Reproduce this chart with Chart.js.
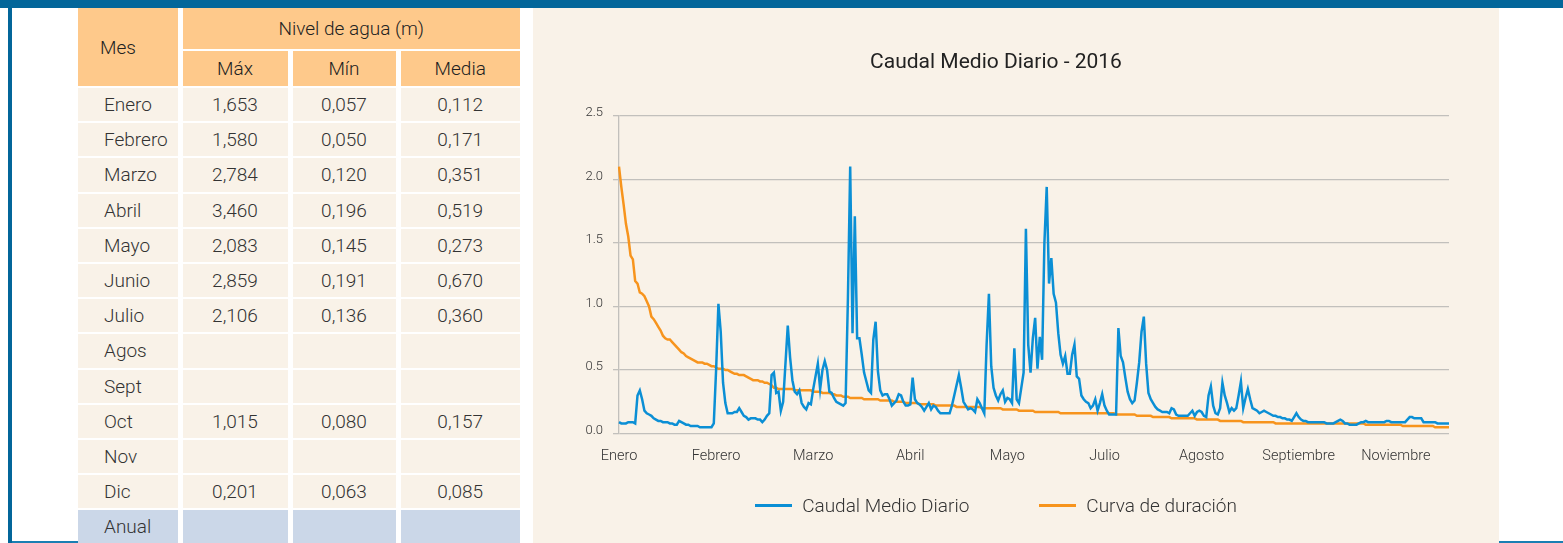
<!DOCTYPE html>
<html lang="es">
<head>
<meta charset="utf-8">
<title>Caudal Medio Diario - 2016</title>
<script src="https://cdn.jsdelivr.net/npm/chart.js@4.4.0/dist/chart.umd.min.js"></script>
<style>
    html, body { margin: 0; padding: 0; }
    body {
        width: 1563px; height: 543px; overflow: hidden; position: relative;
        background: #ffffff; font-family: Roboto, 'Liberation Sans', sans-serif;
    }
    .band { position: absolute; background: #03669a; }
    #topBar { left: 0; top: 0; width: 1563px; height: 8px; }
    #leftBar { left: 8px; top: 0; width: 4px; height: 543px; }
    .baseLine { position: absolute; top: 541px; height: 2px; background: #1a7fb3; }

    #tabla {
        position: absolute; left: 73px; top: 6px;
        border-collapse: separate; border-spacing: 5px 2px;
        table-layout: fixed; font-size: 19px; font-weight: 300; color: #333;
    }
    #tabla td, #tabla th { padding: 0; font-weight: 300; }
    #tabla th { background: #fec98b; color: #222; text-align: center; }
    #tabla th.mes { text-align: left; padding-left: 22px; }
    #tabla tr.top th { height: 41px; }
    #tabla tr.sub th { height: 35px; }
    #tabla td { background: #f9f2e8; height: 33.2px; text-align: center; }
    #tabla td.mes { text-align: left; padding-left: 26px; }
    #tabla tr.anual td { background: #cbd7e8; }

    #panel { position: absolute; left: 533px; top: 8px; width: 966px; height: 535px; background: #f9f2e8; }
    #chartBox { position: absolute; left: 533px; top: 8px; width: 926px; height: 535px; }
    #leyenda {
        position: absolute; left: 533px; top: 494px; width: 926px; height: 22px;
        display: flex; justify-content: center; align-items: center;
        font-size: 19px; font-weight: 300; color: #333;
    }
    .item { display: flex; align-items: center; margin: 0 35px; }
    .muestra { width: 37px; height: 3px; margin-right: 10px; }
</style>
</head>
<body>
<div id="topBar" class="band"></div>
<div id="leftBar" class="band"></div>
<div class="baseLine" style="left:12px; width:66px;"></div>
<div class="baseLine" style="left:1499px; width:64px;"></div>

<table id="tabla">
    <colgroup>
        <col style="width:99.5px"><col style="width:105px"><col style="width:103px"><col style="width:119.5px">
    </colgroup>
    <thead>
        <tr class="top"><th class="mes" rowspan="2">Mes</th><th colspan="3">Nivel de agua (m)</th></tr>
        <tr class="sub"><th>Máx</th><th>Mín</th><th>Media</th></tr>
    </thead>
    <tbody id="filas"></tbody>
</table>

<div id="panel"></div>
<div id="chartBox"><canvas id="chartCaudal"></canvas></div>
<div id="leyenda"></div>

<script>
// Tabla: nivel de agua por mes
const meses = ['Enero', 'Febrero', 'Marzo', 'Abril', 'Mayo', 'Junio', 'Julio', 'Agos', 'Sept', 'Oct', 'Nov', 'Dic', 'Anual'];
const nivelMax = ['1,653', '1,580', '2,784', '3,460', '2,083', '2,859', '2,106', '', '', '1,015', '', '0,201', ''];
const nivelMin = ['0,057', '0,050', '0,120', '0,196', '0,145', '0,191', '0,136', '', '', '0,080', '', '0,063', ''];
const nivelMedia = ['0,112', '0,171', '0,351', '0,519', '0,273', '0,670', '0,360', '', '', '0,157', '', '0,085', ''];

// Grafico: caudal medio diario y curva de duracion
const etiquetasMes = ['Enero', 'Febrero', 'Marzo', 'Abril', 'Mayo', 'Julio', 'Agosto', 'Septiembre', 'Noviembre'];
const pasoEtiqueta = 42;
const ticksY = [0, 0.5, 1.0, 1.5, 2.0, 2.5];

const caudal = [
    0.09, 0.08, 0.08, 0.08, 0.09, 0.09, 0.09, 0.08, 0.30, 0.34, 0.27, 0.18, 0.16, 0.15, 0.14, 0.12, 0.11, 0.10, 0.10, 0.09,
    0.09, 0.09, 0.08, 0.08, 0.07, 0.07, 0.10, 0.09, 0.08, 0.07, 0.07, 0.06, 0.06, 0.06, 0.06, 0.05, 0.05, 0.05, 0.05, 0.05,
    0.05, 0.08, 0.50, 1.02, 0.80, 0.40, 0.24, 0.16, 0.16, 0.16, 0.17, 0.17, 0.20, 0.17, 0.14, 0.13, 0.11, 0.12, 0.12, 0.12,
    0.11, 0.11, 0.09, 0.11, 0.14, 0.16, 0.46, 0.48, 0.32, 0.33, 0.18, 0.25, 0.55, 0.85, 0.60, 0.42, 0.33, 0.31, 0.34, 0.24,
    0.21, 0.19, 0.24, 0.23, 0.35, 0.45, 0.55, 0.35, 0.50, 0.57, 0.50, 0.33, 0.32, 0.28, 0.25, 0.24, 0.23, 0.22, 0.24, 1.05,
    2.10, 0.79, 1.71, 0.75, 0.75, 0.62, 0.48, 0.41, 0.34, 0.32, 0.74, 0.88, 0.49, 0.34, 0.30, 0.31, 0.31, 0.27, 0.22, 0.24,
    0.26, 0.31, 0.30, 0.25, 0.22, 0.22, 0.23, 0.44, 0.27, 0.24, 0.23, 0.21, 0.18, 0.21, 0.24, 0.19, 0.22, 0.21, 0.18, 0.16,
    0.16, 0.16, 0.16, 0.16, 0.22, 0.30, 0.38, 0.46, 0.36, 0.25, 0.22, 0.19, 0.20, 0.19, 0.17, 0.27, 0.24, 0.20, 0.16, 0.70,
    1.10, 0.53, 0.36, 0.30, 0.26, 0.31, 0.34, 0.25, 0.28, 0.27, 0.24, 0.67, 0.27, 0.24, 0.36, 0.48, 1.61, 0.70, 0.48, 0.75,
    0.91, 0.51, 0.76, 0.58, 1.50, 1.94, 1.18, 1.38, 1.10, 1.03, 0.79, 0.62, 0.55, 0.61, 0.47, 0.47, 0.62, 0.70, 0.45, 0.43,
    0.30, 0.27, 0.25, 0.24, 0.20, 0.22, 0.27, 0.18, 0.24, 0.31, 0.22, 0.18, 0.15, 0.15, 0.15, 0.15, 0.83, 0.61, 0.56, 0.44,
    0.33, 0.27, 0.24, 0.26, 0.40, 0.56, 0.80, 0.92, 0.55, 0.32, 0.27, 0.24, 0.21, 0.19, 0.18, 0.17, 0.17, 0.17, 0.16, 0.20,
    0.19, 0.15, 0.14, 0.14, 0.14, 0.14, 0.14, 0.16, 0.18, 0.14, 0.17, 0.18, 0.17, 0.14, 0.13, 0.30, 0.37, 0.22, 0.16, 0.15,
    0.20, 0.40, 0.30, 0.24, 0.17, 0.20, 0.18, 0.20, 0.30, 0.41, 0.20, 0.28, 0.35, 0.27, 0.20, 0.19, 0.18, 0.16, 0.17, 0.18,
    0.17, 0.16, 0.15, 0.14, 0.14, 0.13, 0.13, 0.12, 0.12, 0.11, 0.11, 0.10, 0.13, 0.16, 0.13, 0.11, 0.10, 0.10, 0.09, 0.09,
    0.09, 0.09, 0.09, 0.09, 0.09, 0.09, 0.08, 0.08, 0.08, 0.08, 0.09, 0.10, 0.11, 0.10, 0.08, 0.08, 0.07, 0.07, 0.07, 0.07,
    0.08, 0.09, 0.09, 0.10, 0.09, 0.09, 0.09, 0.09, 0.09, 0.09, 0.09, 0.09, 0.10, 0.10, 0.09, 0.09, 0.09, 0.09, 0.09, 0.09,
    0.09, 0.11, 0.13, 0.13, 0.12, 0.12, 0.12, 0.12, 0.09, 0.09, 0.09, 0.09, 0.09, 0.09, 0.08, 0.08, 0.08, 0.08, 0.08, 0.08
];

const curva = [
    2.10, 1.94, 1.80, 1.65, 1.55, 1.40, 1.37, 1.20, 1.18, 1.11, 1.10, 1.08, 1.04, 1.00, 0.92, 0.90, 0.87, 0.84, 0.81, 0.77,
    0.75, 0.74, 0.74, 0.72, 0.70, 0.68, 0.66, 0.64, 0.63, 0.61, 0.60, 0.59, 0.58, 0.57, 0.56, 0.56, 0.56, 0.55, 0.55, 0.54,
    0.53, 0.53, 0.52, 0.51, 0.51, 0.51, 0.50, 0.50, 0.49, 0.48, 0.47, 0.47, 0.46, 0.46, 0.46, 0.45, 0.44, 0.43, 0.42, 0.42,
    0.42, 0.41, 0.41, 0.40, 0.40, 0.39, 0.38, 0.36, 0.36, 0.35, 0.35, 0.35, 0.35, 0.35, 0.35, 0.35, 0.34, 0.34, 0.34, 0.34,
    0.34, 0.34, 0.34, 0.34, 0.33, 0.33, 0.33, 0.33, 0.32, 0.32, 0.32, 0.32, 0.31, 0.31, 0.30, 0.30, 0.30, 0.29, 0.29, 0.29,
    0.28, 0.28, 0.28, 0.28, 0.28, 0.28, 0.27, 0.27, 0.27, 0.27, 0.27, 0.27, 0.27, 0.26, 0.26, 0.26, 0.26, 0.26, 0.26, 0.25,
    0.25, 0.25, 0.25, 0.25, 0.24, 0.24, 0.24, 0.24, 0.24, 0.24, 0.23, 0.23, 0.23, 0.23, 0.23, 0.23, 0.23, 0.22, 0.22, 0.22,
    0.22, 0.22, 0.22, 0.22, 0.22, 0.22, 0.21, 0.21, 0.21, 0.21, 0.21, 0.21, 0.21, 0.21, 0.21, 0.21, 0.21, 0.20, 0.20, 0.20,
    0.20, 0.20, 0.20, 0.20, 0.20, 0.20, 0.19, 0.19, 0.19, 0.19, 0.19, 0.19, 0.19, 0.18, 0.18, 0.18, 0.18, 0.18, 0.18, 0.18,
    0.17, 0.17, 0.17, 0.17, 0.17, 0.17, 0.17, 0.17, 0.17, 0.17, 0.17, 0.16, 0.16, 0.16, 0.16, 0.16, 0.16, 0.16, 0.16, 0.16,
    0.16, 0.16, 0.16, 0.16, 0.16, 0.16, 0.16, 0.16, 0.16, 0.16, 0.16, 0.16, 0.16, 0.16, 0.16, 0.15, 0.15, 0.15, 0.15, 0.15,
    0.15, 0.15, 0.15, 0.15, 0.14, 0.14, 0.14, 0.14, 0.14, 0.14, 0.14, 0.13, 0.13, 0.13, 0.13, 0.13, 0.13, 0.13, 0.13, 0.12,
    0.12, 0.12, 0.12, 0.12, 0.12, 0.12, 0.12, 0.12, 0.12, 0.12, 0.11, 0.11, 0.11, 0.11, 0.11, 0.11, 0.11, 0.11, 0.11, 0.11,
    0.10, 0.10, 0.10, 0.10, 0.10, 0.10, 0.10, 0.10, 0.10, 0.10, 0.09, 0.09, 0.09, 0.09, 0.09, 0.09, 0.09, 0.09, 0.09, 0.09,
    0.09, 0.09, 0.09, 0.09, 0.08, 0.08, 0.08, 0.08, 0.08, 0.08, 0.08, 0.08, 0.08, 0.08, 0.08, 0.08, 0.08, 0.08, 0.08, 0.08,
    0.08, 0.08, 0.08, 0.08, 0.08, 0.08, 0.08, 0.08, 0.08, 0.08, 0.08, 0.08, 0.08, 0.08, 0.08, 0.08, 0.08, 0.08, 0.08, 0.08,
    0.08, 0.08, 0.08, 0.07, 0.07, 0.07, 0.07, 0.07, 0.07, 0.07, 0.07, 0.07, 0.07, 0.07, 0.07, 0.07, 0.07, 0.07, 0.07, 0.06,
    0.06, 0.06, 0.06, 0.06, 0.06, 0.06, 0.06, 0.06, 0.06, 0.06, 0.06, 0.06, 0.06, 0.05, 0.05, 0.05, 0.05, 0.05, 0.05, 0.05
];

const AZUL = '#0b8fd5';
const NARANJA = '#f7941d';
const GRIS = '#c2c0bc';

function buildTable() {
    const body = document.getElementById('filas');
    meses.forEach((mes, i) => {
        const tr = document.createElement('tr');
        if (mes === 'Anual') tr.className = 'anual';
        [mes, nivelMax[i], nivelMin[i], nivelMedia[i]].forEach((txt, c) => {
            const td = document.createElement('td');
            if (c === 0) td.className = 'mes';
            td.textContent = txt;
            tr.appendChild(td);
        });
        body.appendChild(tr);
    });
}

function buildChart() {
    const ctx = document.getElementById('chartCaudal').getContext('2d');
    const dias = caudal.map((_, i) => i);

    const chart = new Chart(ctx, {
        type: 'line',
        data: {
            labels: dias,
            datasets: [
                { label: 'Caudal Medio Diario', data: caudal, borderColor: AZUL, backgroundColor: AZUL },
                { label: 'Curva de duración', data: curva, borderColor: NARANJA, backgroundColor: NARANJA }
            ]
        },
        options: {
            responsive: true,
            maintainAspectRatio: false,
            animation: false,
            elements: {
                line: { borderWidth: 2.5, tension: 0 },
                point: { radius: 0, hoverRadius: 0 }
            },
            layout: { padding: { left: 10, right: 10, top: 0, bottom: 64 } },
            plugins: {
                legend: { display: false },
                tooltip: { enabled: false },
                title: {
                    display: true,
                    text: 'Caudal Medio Diario - 2016',
                    color: '#222',
                    font: { family: 'Roboto', size: 21, weight: 400 },
                    padding: { top: 42, bottom: 40.5 }
                }
            },
            scales: {
                x: {
                    grid: { display: false, drawTicks: false },
                    border: { display: false },
                    ticks: {
                        autoSkip: false, maxRotation: 0, minRotation: 0, padding: 14,
                        color: '#333', font: { family: 'Roboto', size: 14.5, weight: 300 },
                        callback: (v, i) => (i % pasoEtiqueta === 0 ? etiquetasMes[i / pasoEtiqueta] : null)
                    }
                },
                y: {
                    min: 0, max: 2.5,
                    afterBuildTicks: axis => { axis.ticks = ticksY.map(v => ({ value: v })); },
                    afterFit: axis => { axis.width = 76; },
                    grid: { color: GRIS, lineWidth: 1.3, tickLength: 6 },
                    border: { display: true, color: GRIS, width: 1.3 },
                    ticks: {
                        padding: 10, labelOffset: -3,
                        color: '#333', font: { family: 'Roboto', size: 13, weight: 300 },
                        callback: v => v.toFixed(1)
                    }
                }
            }
        }
    });

    // leyenda en HTML a partir de los datasets
    const ley = document.getElementById('leyenda');
    chart.data.datasets.forEach(ds => {
        const item = document.createElement('div');
        item.className = 'item';
        const m = document.createElement('span');
        m.className = 'muestra';
        m.style.background = ds.borderColor;
        const t = document.createElement('span');
        t.textContent = ds.label;
        item.appendChild(m);
        item.appendChild(t);
        ley.appendChild(item);
    });
}

document.addEventListener('DOMContentLoaded', () => {
    buildTable();
    buildChart();
});
</script>
</body>
</html>
